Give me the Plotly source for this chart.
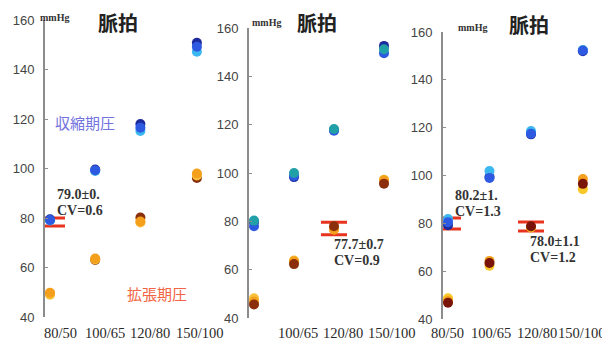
import plotly.graph_objects as go

# Reference canvas size; page body adds an 8px margin, so the figure is drawn 8px smaller
W, H = 610, 347
OFF = 8
FW, FH = W - OFF, H - OFF

categories = ["80/50", "100/65", "120/80", "150/100"]
cat_pos = [1, 2, 3, 4.25]
# where each panel prints its category labels (same units as cat_pos)
label_pos_1 = [1.24, 2.22, 3.21, 4.32]
label_pos_2 = [0.86, 2.10, 3.22, 4.45]
label_pos_3 = [0.98, 2.04, 3.14, 4.23]
y_ticks = [40, 60, 80, 100, 120, 140, 160]

# Panel 1 readings (mmHg)
sys_navy_1 = [79.5, 99.6, 118.0, 150.8]
sys_cyan_1 = [79.0, 99.0, 115.2, 147.2]
sys_blue_1 = [79.2, 99.3, 116.5, 149.2]
dia_dark_1 = [49.5, 63.0, 80.2, 96.2]
dia_light_1 = [49.0, 63.2, 78.2, 97.2]
dia_orange_1 = [49.8, 63.6, 78.6, 98.0]

# Panel 2 readings
sys_navy_2 = [79.7, 98.3, 117.8, 152.6]
sys_blue_2 = [78.0, 98.8, 117.5, 149.6]
sys_teal_2 = [80.3, 100.0, 118.2, 151.2]
dia_light_2 = [48.2, 63.8, 77.0, 97.2]
dia_orange_2 = [46.8, 63.5, 76.5, 97.0]
dia_dark_2 = [45.6, 62.3, 78.0, 95.6]

# Panel 3 readings
sys_navy_3 = [79.2, 99.4, 117.2, 152.0]
sys_cyan_3 = [81.8, 101.9, 118.6, 152.5]
sys_blue_3 = [80.5, 99.0, 117.5, 152.3]
dia_yellow_3 = [48.7, 62.3, 78.3, 94.3]
dia_orange_3 = [47.5, 64.3, 78.5, 98.5]
dia_dark_3 = [46.8, 63.4, 78.8, 96.5]

# Pulse mean +/- spread bars (category index, mean, half-range)
bar_cat_1 = [0]; bar_mean_1 = [78.4]; bar_err_1 = [1.6]
bar_cat_2 = [2]; bar_mean_2 = [77.0]; bar_err_2 = [2.6]
bar_cat_3 = [0, 2]; bar_mean_3 = [79.9, 78.7]; bar_err_3 = [2.3, 1.9]

stat_mean_1 = ["79.0±0."]; stat_cv_1 = ["CV=0.6"]
stat_mean_2 = ["77.7±0.7"]; stat_cv_2 = ["CV=0.9"]
stat_mean_3 = ["80.2±1.", "78.0±1.1"]; stat_cv_3 = ["CV=1.3", "CV=1.2"]

title_text = "脈拍"
unit_text = "mmHg"
sys_label = "収縮期圧"
dia_label = "拡張期圧"

C_CYAN = "#3cb8f0"
C_BLUE = "#2d5ae0"
C_NAVY = "#1c2a9c"
C_TEAL = "#22a0a8"
C_ORANGE = "#f5a01c"
C_LIGHT = "#f9c23a"
C_DARK = "#8a2e0c"
C_YELLOW = "#f8c828"
C_RED = "#e8341e"


def fx(px):
    return (px - OFF) / FW


def fy(py):
    return 1 - (py - OFF) / FH


panels = [
    dict(ax=45, right=244, top=20, bottom=317, unit=45.2),
    dict(ax=249, right=438, top=28, bottom=318, unit=40.0),
    dict(ax=443, right=606, top=32, bottom=319, unit=41.5),
]
label_sets = [label_pos_1, label_pos_2, label_pos_3]

fig = go.Figure()

panel_series = [
    ([(sys_navy_1, C_NAVY), (sys_cyan_1, C_CYAN), (sys_blue_1, C_BLUE),
      (dia_dark_1, C_DARK), (dia_light_1, C_LIGHT), (dia_orange_1, C_ORANGE)],
     bar_cat_1, bar_mean_1, bar_err_1, 15),
    ([(sys_navy_2, C_NAVY), (sys_blue_2, C_BLUE), (sys_teal_2, C_TEAL),
      (dia_light_2, C_LIGHT), (dia_orange_2, C_ORANGE), (dia_dark_2, C_DARK)],
     bar_cat_2, bar_mean_2, bar_err_2, 13),
    ([(sys_navy_3, C_NAVY), (sys_cyan_3, C_CYAN), (sys_blue_3, C_BLUE),
      (dia_yellow_3, C_YELLOW), (dia_orange_3, C_ORANGE), (dia_dark_3, "#7a1408")],
     bar_cat_3, bar_mean_3, bar_err_3, 13),
]

ann = []
layout = {}
for i, (p, lp, (series, bcat, bmean, berr, bw)) in enumerate(zip(panels, label_sets, panel_series)):
    n = "" if i == 0 else str(i + 1)
    xa, ya = "x" + n, "y" + n
    fig.add_trace(go.Scatter(
        x=[cat_pos[c] for c in bcat], y=bmean, mode="markers",
        marker=dict(size=1, opacity=0),
        error_y=dict(type="data", array=berr, width=bw, thickness=3, color=C_RED),
        xaxis=xa, yaxis=ya, showlegend=False, hoverinfo="skip"))
    for vals, col in series:
        fig.add_trace(go.Scatter(
            x=cat_pos, y=vals, mode="markers",
            marker=dict(size=10, color=col, line=dict(width=0)),
            xaxis=xa, yaxis=ya, showlegend=False))
    start = 1 - 5 / p["unit"]
    end = start + (p["right"] - p["ax"]) / p["unit"]
    layout["xaxis" + n] = dict(
        domain=[fx(p["ax"]), min(fx(p["right"]), 1.0)], range=[start, end], anchor=ya,
        showticklabels=False, showline=False, showgrid=False,
        zeroline=False, ticks="", automargin=False)
    layout["yaxis" + n] = dict(
        domain=[fy(p["bottom"]), fy(p["top"])], range=[40, 160], anchor=xa,
        tickvals=y_ticks, showline=True, linecolor="#8c8c8c", linewidth=2,
        ticks="inside", ticklen=3, tickcolor="#8c8c8c", showgrid=False,
        zeroline=False, ticklabelstandoff=6, automargin=False,
        tickfont=dict(family="Liberation Sans", size=13, color="#444444"))
    # category labels under each panel, placed in that panel's x units
    for v, t in zip(lp, categories):
        ann.append(dict(x=v, y=fy(333), xref=xa, yref="paper", text=t, showarrow=False,
                        xanchor="center", yanchor="middle",
                        font=dict(family="Liberation Serif", size=14.5, color="#2a2a2a")))

fig.update_layout(**layout)

title_pos = [(118, 23), (317, 22), (529, 24)]
unit_pos = [(38, 17), (250, 23), (456, 28)]
for (tx, ty), (ux, uy) in zip(title_pos, unit_pos):
    ann.append(dict(x=fx(tx), y=fy(ty), xref="paper", yref="paper", text="<b>" + title_text + "</b>",
                    showarrow=False, xanchor="center", yanchor="middle",
                    font=dict(family="Noto Sans CJK JP", size=20, color="#222222")))
    ann.append(dict(x=fx(ux), y=fy(uy), xref="paper", yref="paper", text="<b>" + unit_text + "</b>",
                    showarrow=False, xanchor="left", yanchor="middle",
                    font=dict(family="Liberation Serif", size=10, color="#333333")))

ann.append(dict(x=fx(53), y=fy(122), xref="paper", yref="paper", text=sys_label, showarrow=False,
                xanchor="left", yanchor="middle",
                font=dict(family="Noto Sans CJK JP", size=15, color="#7272e0")))
ann.append(dict(x=fx(125), y=fy(293), xref="paper", yref="paper", text=dia_label, showarrow=False,
                xanchor="left", yanchor="middle",
                font=dict(family="Noto Sans CJK JP", size=15, color="#f26443")))

stat_pos = [[(55, 194)], [(332, 244)], [(453, 195), (528, 241)]]
for means, cvs, poss in zip([stat_mean_1, stat_mean_2, stat_mean_3],
                            [stat_cv_1, stat_cv_2, stat_cv_3], stat_pos):
    for m, c, (sx, sy) in zip(means, cvs, poss):
        for k, t in enumerate([m, c]):
            ann.append(dict(x=fx(sx), y=fy(sy + 16 * k), xref="paper", yref="paper",
                            text="<b>" + t + "</b>", showarrow=False,
                            xanchor="left", yanchor="middle", align="left",
                            font=dict(family="Liberation Serif", size=14, color="#333333")))

fig.update_layout(
    width=FW, height=FH, margin=dict(l=0, r=0, t=0, b=0, autoexpand=False),
    paper_bgcolor="white", plot_bgcolor="white", template="none",
    annotations=ann, showlegend=False)

fig.write_html("out.html")
